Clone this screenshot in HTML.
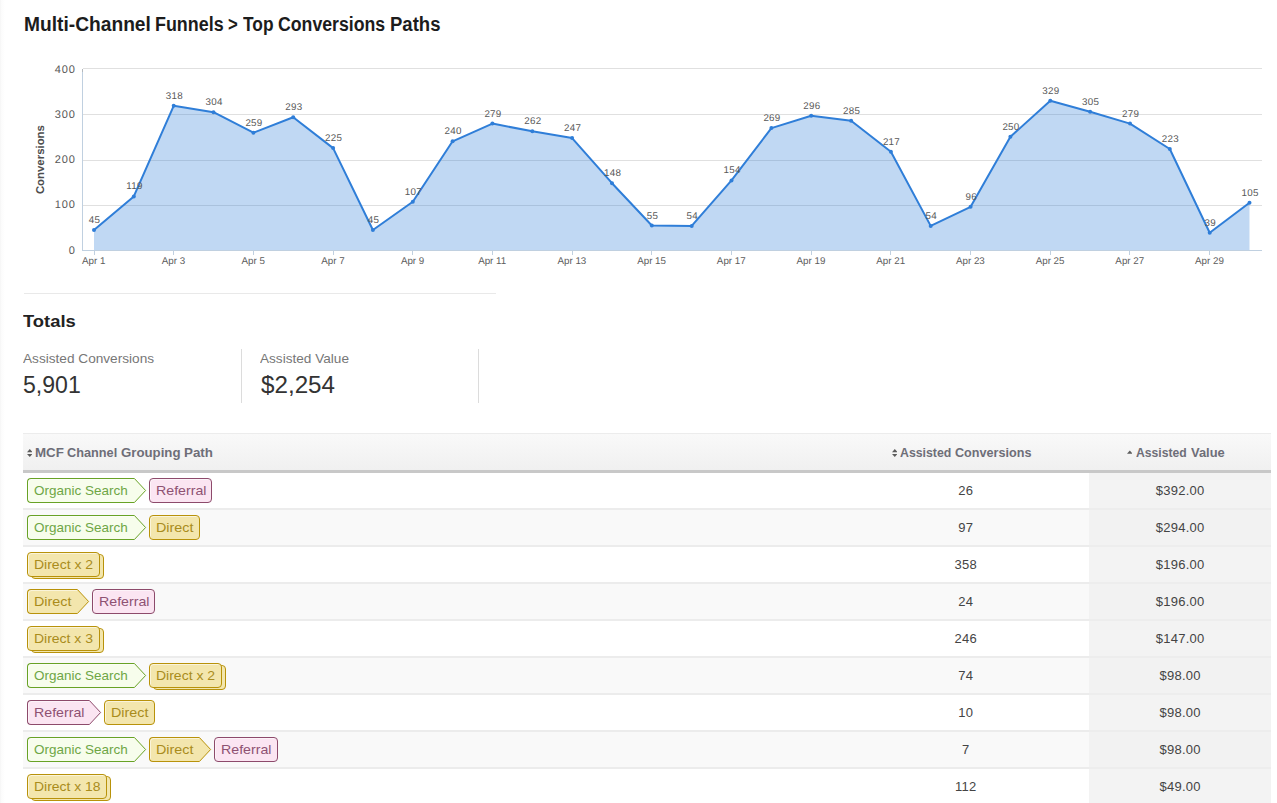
<!DOCTYPE html>
<html><head><meta charset="utf-8"><title>Top Conversions Paths</title>
<style>
html,body{margin:0;padding:0;background:#fff;}
body{width:1277px;height:803px;overflow:hidden;position:relative;font-family:"Liberation Sans",sans-serif;color:#333;}
.abs{position:absolute;white-space:nowrap;}
.t{position:absolute;white-space:nowrap;line-height:1;transform-origin:0 0;}
#edge{left:0;top:0;width:1px;height:803px;background:#f7f7f7;}
#edge2{left:1px;top:0;width:4px;height:803px;background:linear-gradient(to right,#fbfbfb,#fff);}
#hr{left:24px;top:293px;width:472px;height:1px;background:#e9e9e9;}
.vd{width:1px;height:54px;top:349px;background:#dcdcdc;}
#thead{left:23px;top:433px;width:1248px;height:37px;background:linear-gradient(to bottom,#f9f9f9 0%,#f5f5f5 45%,#f0f0f0 100%);border-top:1px solid #ececec;box-sizing:border-box;}
#thb{left:23px;top:470px;width:1248px;height:3px;background:#c8c8c8;}
.row{position:absolute;left:23px;width:1248px;height:35px;border-bottom:2px solid #ececec;}
.row.even{background:#f9f9f9;}
.c2{position:absolute;left:817.8px;width:250px;top:0;line-height:35px;text-align:center;font-size:13px;letter-spacing:0.25px;color:#444;}
.c3{position:absolute;left:1066px;width:182px;top:0;height:35px;line-height:35px;text-align:center;text-indent:0.4px;font-size:13px;letter-spacing:0.25px;color:#444;background:#f3f3f3;box-shadow:0 2px 0 #ededed;}
.row.even .c3{background:#f2f2f2;}
.tg{position:absolute;box-sizing:border-box;height:25px;border:1px solid;border-radius:4px;box-shadow:inset 1px 1px 0 rgba(255,255,255,.55);}
.tg.ar{border-right:none;border-top-right-radius:0;border-bottom-right-radius:0;}
</style></head><body>
<div class="abs" id="edge"></div><div class="abs" id="edge2"></div>
<span class="t" style="left:23.77px;top:15.00px;font-size:19.5px;font-weight:bold;color:#1c1c1c;transform:scaleX(0.9841);">Multi-Channel</span><span class="t" style="left:154.85px;top:15.00px;font-size:19.5px;font-weight:bold;color:#1c1c1c;transform:scaleX(0.9182);">Funnels</span><span class="t" style="left:227.90px;top:15.00px;font-size:19.5px;font-weight:bold;color:#1c1c1c;transform:scaleX(0.8561);">&gt;</span><span class="t" style="left:242.73px;top:15.00px;font-size:19.5px;font-weight:bold;color:#1c1c1c;transform:scaleX(0.8886);">Top</span><span class="t" style="left:277.72px;top:15.00px;font-size:19.5px;font-weight:bold;color:#1c1c1c;transform:scaleX(0.9077);">Conversions</span><span class="t" style="left:390.21px;top:15.00px;font-size:19.5px;font-weight:bold;color:#1c1c1c;transform:scaleX(0.9498);">Paths</span>
<svg id="chart" width="1277" height="240" viewBox="0 50 1277 240" style="position:absolute;left:0;top:50px;font-family:'Liberation Sans',sans-serif;text-rendering:geometricPrecision">
<path d="M83 205.5 H1262" stroke="#e0e0e0" stroke-width="1" fill="none"/>
<path d="M83 160.5 H1262" stroke="#e0e0e0" stroke-width="1" fill="none"/>
<path d="M83 114.5 H1262" stroke="#e0e0e0" stroke-width="1" fill="none"/>
<path d="M83 68.5 H1262" stroke="#e0e0e0" stroke-width="1" fill="none"/>
<path d="M94.0,250.5 L94.0,230.0 L133.8,196.4 L173.7,105.8 L213.5,112.2 L253.4,132.7 L293.2,117.2 L333.1,148.1 L372.9,230.0 L412.8,201.8 L452.6,141.3 L492.4,123.6 L532.3,131.3 L572.1,138.1 L612.0,183.2 L651.8,225.5 L691.7,225.9 L731.5,180.4 L771.4,128.1 L811.2,115.8 L851.1,120.8 L890.9,151.8 L930.7,225.9 L970.6,206.8 L1010.4,136.8 L1050.3,100.8 L1090.1,111.7 L1130.0,123.6 L1169.8,149.0 L1209.7,232.8 L1249.5,202.7 L1249.5,250.5 Z" fill="#2f7ed8" fill-opacity="0.3"/>
<path d="M82.5 69 V251" stroke="#c0d0e0" stroke-width="1" fill="none"/>
<path d="M82.5 69 V72" stroke="#b4b8bc" stroke-width="1" fill="none"/>
<path d="M82 250.5 H1262" stroke="#c0d0e0" stroke-width="1" fill="none"/>
<path d="M94.5 251 V255" stroke="#c0d0e0" stroke-width="1" fill="none"/>
<path d="M173.5 251 V255" stroke="#c0d0e0" stroke-width="1" fill="none"/>
<path d="M253.5 251 V255" stroke="#c0d0e0" stroke-width="1" fill="none"/>
<path d="M333.5 251 V255" stroke="#c0d0e0" stroke-width="1" fill="none"/>
<path d="M412.5 251 V255" stroke="#c0d0e0" stroke-width="1" fill="none"/>
<path d="M492.5 251 V255" stroke="#c0d0e0" stroke-width="1" fill="none"/>
<path d="M572.5 251 V255" stroke="#c0d0e0" stroke-width="1" fill="none"/>
<path d="M651.5 251 V255" stroke="#c0d0e0" stroke-width="1" fill="none"/>
<path d="M731.5 251 V255" stroke="#c0d0e0" stroke-width="1" fill="none"/>
<path d="M811.5 251 V255" stroke="#c0d0e0" stroke-width="1" fill="none"/>
<path d="M890.5 251 V255" stroke="#c0d0e0" stroke-width="1" fill="none"/>
<path d="M970.5 251 V255" stroke="#c0d0e0" stroke-width="1" fill="none"/>
<path d="M1050.5 251 V255" stroke="#c0d0e0" stroke-width="1" fill="none"/>
<path d="M1129.5 251 V255" stroke="#c0d0e0" stroke-width="1" fill="none"/>
<path d="M1209.5 251 V255" stroke="#c0d0e0" stroke-width="1" fill="none"/>
<polyline points="94.0,230.0 133.8,196.4 173.7,105.8 213.5,112.2 253.4,132.7 293.2,117.2 333.1,148.1 372.9,230.0 412.8,201.8 452.6,141.3 492.4,123.6 532.3,131.3 572.1,138.1 612.0,183.2 651.8,225.5 691.7,225.9 731.5,180.4 771.4,128.1 811.2,115.8 851.1,120.8 890.9,151.8 930.7,225.9 970.6,206.8 1010.4,136.8 1050.3,100.8 1090.1,111.7 1130.0,123.6 1169.8,149.0 1209.7,232.8 1249.5,202.7" fill="none" stroke="#2f7ed8" stroke-width="2" stroke-linejoin="round" stroke-linecap="round"/>
<circle cx="94.0" cy="230.0" r="2" fill="#2f7ed8"/>
<circle cx="133.8" cy="196.4" r="2" fill="#2f7ed8"/>
<circle cx="173.7" cy="105.8" r="2" fill="#2f7ed8"/>
<circle cx="213.5" cy="112.2" r="2" fill="#2f7ed8"/>
<circle cx="253.4" cy="132.7" r="2" fill="#2f7ed8"/>
<circle cx="293.2" cy="117.2" r="2" fill="#2f7ed8"/>
<circle cx="333.1" cy="148.1" r="2" fill="#2f7ed8"/>
<circle cx="372.9" cy="230.0" r="2" fill="#2f7ed8"/>
<circle cx="412.8" cy="201.8" r="2" fill="#2f7ed8"/>
<circle cx="452.6" cy="141.3" r="2" fill="#2f7ed8"/>
<circle cx="492.4" cy="123.6" r="2" fill="#2f7ed8"/>
<circle cx="532.3" cy="131.3" r="2" fill="#2f7ed8"/>
<circle cx="572.1" cy="138.1" r="2" fill="#2f7ed8"/>
<circle cx="612.0" cy="183.2" r="2" fill="#2f7ed8"/>
<circle cx="651.8" cy="225.5" r="2" fill="#2f7ed8"/>
<circle cx="691.7" cy="225.9" r="2" fill="#2f7ed8"/>
<circle cx="731.5" cy="180.4" r="2" fill="#2f7ed8"/>
<circle cx="771.4" cy="128.1" r="2" fill="#2f7ed8"/>
<circle cx="811.2" cy="115.8" r="2" fill="#2f7ed8"/>
<circle cx="851.1" cy="120.8" r="2" fill="#2f7ed8"/>
<circle cx="890.9" cy="151.8" r="2" fill="#2f7ed8"/>
<circle cx="930.7" cy="225.9" r="2" fill="#2f7ed8"/>
<circle cx="970.6" cy="206.8" r="2" fill="#2f7ed8"/>
<circle cx="1010.4" cy="136.8" r="2" fill="#2f7ed8"/>
<circle cx="1050.3" cy="100.8" r="2" fill="#2f7ed8"/>
<circle cx="1090.1" cy="111.7" r="2" fill="#2f7ed8"/>
<circle cx="1130.0" cy="123.6" r="2" fill="#2f7ed8"/>
<circle cx="1169.8" cy="149.0" r="2" fill="#2f7ed8"/>
<circle cx="1209.7" cy="232.8" r="2" fill="#2f7ed8"/>
<circle cx="1249.5" cy="202.7" r="2" fill="#2f7ed8"/>
<text x="94.6" y="223.0" text-anchor="middle" font-size="9.8" letter-spacing="0.3" fill="#585858">45</text>
<text x="134.4" y="189.4" text-anchor="middle" font-size="9.8" letter-spacing="0.3" fill="#585858">119</text>
<text x="174.3" y="98.8" text-anchor="middle" font-size="9.8" letter-spacing="0.3" fill="#585858">318</text>
<text x="214.1" y="105.2" text-anchor="middle" font-size="9.8" letter-spacing="0.3" fill="#585858">304</text>
<text x="254.0" y="125.7" text-anchor="middle" font-size="9.8" letter-spacing="0.3" fill="#585858">259</text>
<text x="293.8" y="110.2" text-anchor="middle" font-size="9.8" letter-spacing="0.3" fill="#585858">293</text>
<text x="333.7" y="141.1" text-anchor="middle" font-size="9.8" letter-spacing="0.3" fill="#585858">225</text>
<text x="373.5" y="223.0" text-anchor="middle" font-size="9.8" letter-spacing="0.3" fill="#585858">45</text>
<text x="413.4" y="194.8" text-anchor="middle" font-size="9.8" letter-spacing="0.3" fill="#585858">107</text>
<text x="453.2" y="134.3" text-anchor="middle" font-size="9.8" letter-spacing="0.3" fill="#585858">240</text>
<text x="493.0" y="116.6" text-anchor="middle" font-size="9.8" letter-spacing="0.3" fill="#585858">279</text>
<text x="532.9" y="124.3" text-anchor="middle" font-size="9.8" letter-spacing="0.3" fill="#585858">262</text>
<text x="572.7" y="131.1" text-anchor="middle" font-size="9.8" letter-spacing="0.3" fill="#585858">247</text>
<text x="612.6" y="176.2" text-anchor="middle" font-size="9.8" letter-spacing="0.3" fill="#585858">148</text>
<text x="652.4" y="218.5" text-anchor="middle" font-size="9.8" letter-spacing="0.3" fill="#585858">55</text>
<text x="692.3" y="218.9" text-anchor="middle" font-size="9.8" letter-spacing="0.3" fill="#585858">54</text>
<text x="732.1" y="173.4" text-anchor="middle" font-size="9.8" letter-spacing="0.3" fill="#585858">154</text>
<text x="772.0" y="121.1" text-anchor="middle" font-size="9.8" letter-spacing="0.3" fill="#585858">269</text>
<text x="811.8" y="108.8" text-anchor="middle" font-size="9.8" letter-spacing="0.3" fill="#585858">296</text>
<text x="851.7" y="113.8" text-anchor="middle" font-size="9.8" letter-spacing="0.3" fill="#585858">285</text>
<text x="891.5" y="144.8" text-anchor="middle" font-size="9.8" letter-spacing="0.3" fill="#585858">217</text>
<text x="931.3" y="218.9" text-anchor="middle" font-size="9.8" letter-spacing="0.3" fill="#585858">54</text>
<text x="971.2" y="199.8" text-anchor="middle" font-size="9.8" letter-spacing="0.3" fill="#585858">96</text>
<text x="1011.0" y="129.8" text-anchor="middle" font-size="9.8" letter-spacing="0.3" fill="#585858">250</text>
<text x="1050.9" y="93.8" text-anchor="middle" font-size="9.8" letter-spacing="0.3" fill="#585858">329</text>
<text x="1090.7" y="104.7" text-anchor="middle" font-size="9.8" letter-spacing="0.3" fill="#585858">305</text>
<text x="1130.6" y="116.6" text-anchor="middle" font-size="9.8" letter-spacing="0.3" fill="#585858">279</text>
<text x="1170.4" y="142.0" text-anchor="middle" font-size="9.8" letter-spacing="0.3" fill="#585858">223</text>
<text x="1210.3" y="225.8" text-anchor="middle" font-size="9.8" letter-spacing="0.3" fill="#585858">39</text>
<text x="1250.1" y="195.7" text-anchor="middle" font-size="9.8" letter-spacing="0.3" fill="#585858">105</text>
<text x="75.6" y="254" text-anchor="end" font-size="11" letter-spacing="0.8" fill="#585858">0</text>
<text x="75.6" y="208" text-anchor="end" font-size="11" letter-spacing="0.8" fill="#585858">100</text>
<text x="75.6" y="163" text-anchor="end" font-size="11" letter-spacing="0.8" fill="#585858">200</text>
<text x="75.6" y="118" text-anchor="end" font-size="11" letter-spacing="0.8" fill="#585858">300</text>
<text x="75.6" y="73" text-anchor="end" font-size="11" letter-spacing="0.8" fill="#585858">400</text>
<text x="93.8" y="264" text-anchor="middle" font-size="9.8" letter-spacing="0" fill="#5c5c5c">Apr 1</text>
<text x="173.5" y="264" text-anchor="middle" font-size="9.8" letter-spacing="0" fill="#5c5c5c">Apr 3</text>
<text x="253.2" y="264" text-anchor="middle" font-size="9.8" letter-spacing="0" fill="#5c5c5c">Apr 5</text>
<text x="332.9" y="264" text-anchor="middle" font-size="9.8" letter-spacing="0" fill="#5c5c5c">Apr 7</text>
<text x="412.6" y="264" text-anchor="middle" font-size="9.8" letter-spacing="0" fill="#5c5c5c">Apr 9</text>
<text x="492.2" y="264" text-anchor="middle" font-size="9.8" letter-spacing="0" fill="#5c5c5c">Apr 11</text>
<text x="571.9" y="264" text-anchor="middle" font-size="9.8" letter-spacing="0" fill="#5c5c5c">Apr 13</text>
<text x="651.6" y="264" text-anchor="middle" font-size="9.8" letter-spacing="0" fill="#5c5c5c">Apr 15</text>
<text x="731.3" y="264" text-anchor="middle" font-size="9.8" letter-spacing="0" fill="#5c5c5c">Apr 17</text>
<text x="811.0" y="264" text-anchor="middle" font-size="9.8" letter-spacing="0" fill="#5c5c5c">Apr 19</text>
<text x="890.7" y="264" text-anchor="middle" font-size="9.8" letter-spacing="0" fill="#5c5c5c">Apr 21</text>
<text x="970.4" y="264" text-anchor="middle" font-size="9.8" letter-spacing="0" fill="#5c5c5c">Apr 23</text>
<text x="1050.1" y="264" text-anchor="middle" font-size="9.8" letter-spacing="0" fill="#5c5c5c">Apr 25</text>
<text x="1129.8" y="264" text-anchor="middle" font-size="9.8" letter-spacing="0" fill="#5c5c5c">Apr 27</text>
<text x="1209.5" y="264" text-anchor="middle" font-size="9.8" letter-spacing="0" fill="#5c5c5c">Apr 29</text>
<text x="44.2" y="159.6" text-anchor="middle" font-size="11.4" font-weight="bold" fill="#4d4d4d" transform="rotate(-90 44.2 159.6)">Conversions</text>
</svg>
<div class="abs" id="hr"></div>
<span class="t" style="left:23.26px;top:313.00px;font-size:16.5px;font-weight:bold;color:#222;transform:scaleX(1.1125);">Totals</span><span class="t" style="left:23.30px;top:352.00px;font-size:13px;font-weight:normal;color:#777;transform:scaleX(1.0485);">Assisted Conversions</span><span class="t" style="left:23.22px;top:374.00px;font-size:23px;font-weight:normal;color:#333;transform:scaleX(1.0025);">5,901</span><span class="t" style="left:260.10px;top:352.00px;font-size:13px;font-weight:normal;color:#777;transform:scaleX(1.0462);">Assisted Value</span><span class="t" style="left:260.90px;top:374.00px;font-size:23px;font-weight:normal;color:#333;transform:scaleX(1.0518);">$2,254</span>
<div class="abs vd" style="left:241px"></div>
<div class="abs vd" style="left:478px"></div>
<div class="abs" id="thead"></div>
<div class="abs" id="thb"></div>
<svg class="abs" style="left:26.6px;top:448px" width="5.6" height="10" viewBox="0 0 5.6 10"><path d="M0 4.2 L2.8 1 L5.6 4.2 Z M0 5.9 L2.8 9.1 L5.6 5.9 Z" fill="#5c5c5c"/></svg><span class="t" style="left:34.73px;top:446.00px;font-size:13.4px;font-weight:bold;color:#6e6e78;transform:scaleX(0.9955);">MCF</span><span class="t" style="left:66.93px;top:446.00px;font-size:13.4px;font-weight:bold;color:#6e6e78;transform:scaleX(0.9499);">Channel</span><span class="t" style="left:120.61px;top:446.00px;font-size:13.4px;font-weight:bold;color:#6e6e78;transform:scaleX(0.9879);">Grouping</span><span class="t" style="left:184.03px;top:446.00px;font-size:13.4px;font-weight:bold;color:#6e6e78;transform:scaleX(0.9959);">Path</span><svg class="abs" style="left:891.5px;top:448px" width="5.6" height="10" viewBox="0 0 5.6 10"><path d="M0 4.2 L2.8 1 L5.6 4.2 Z M0 5.9 L2.8 9.1 L5.6 5.9 Z" fill="#5c5c5c"/></svg><span class="t" style="left:899.91px;top:446.00px;font-size:13.4px;font-weight:bold;color:#6e6e78;transform:scaleX(0.9200);">Assisted</span><span class="t" style="left:955.13px;top:446.00px;font-size:13.4px;font-weight:bold;color:#6e6e78;transform:scaleX(0.9425);">Conversions</span><svg class="abs" style="left:1126.6px;top:450px" width="5.6" height="4" viewBox="0 0 5.6 4"><path d="M0 3.8 L2.8 0.6 L5.6 3.8 Z" fill="#5c5c5c"/></svg><span class="t" style="left:1136.02px;top:446.00px;font-size:13.4px;font-weight:bold;color:#6e6e78;transform:scaleX(0.9090);">Assisted</span><span class="t" style="left:1190.74px;top:446.00px;font-size:13.4px;font-weight:bold;color:#6e6e78;transform:scaleX(0.9641);">Value</span>
<div class="row odd" style="top:473px"><div class="tg ar" style="left:4px;top:5px;width:107px;background:#f7fdec;border-color:#68a225"></div><svg class="abs" style="left:111px;top:5px" width="13" height="25" viewBox="0 0 13 25"><path d="M0 0.5 L0.4 0.5 L11.6 12.5 L0.4 24.5 L0 24.5" fill="#f7fdec" stroke="#68a225" stroke-width="1"/></svg><span class="t" style="left:11.22px;top:11.00px;font-size:13px;font-weight:normal;color:#6ea645;transform:scaleX(1.0371);">Organic Search</span><div class="tg" style="left:126px;top:5px;width:63px;background:#fbe5f2;border-color:#8d4a6b"></div><span class="t" style="left:133.04px;top:11.00px;font-size:13px;font-weight:normal;color:#8e5272;transform:scaleX(1.0907);">Referral</span><div class="c2">26</div><div class="c3">$392.00</div></div>
<div class="row even" style="top:510px"><div class="tg ar" style="left:4px;top:5px;width:107px;background:#f7fdec;border-color:#68a225"></div><svg class="abs" style="left:111px;top:5px" width="13" height="25" viewBox="0 0 13 25"><path d="M0 0.5 L0.4 0.5 L11.6 12.5 L0.4 24.5 L0 24.5" fill="#f7fdec" stroke="#68a225" stroke-width="1"/></svg><span class="t" style="left:11.22px;top:11.00px;font-size:13px;font-weight:normal;color:#6ea645;transform:scaleX(1.0371);">Organic Search</span><div class="tg" style="left:126px;top:5px;width:51px;background:#f3e6ad;border-color:#b8920a"></div><span class="t" style="left:133.03px;top:11.00px;font-size:13px;font-weight:normal;color:#a98c1c;transform:scaleX(1.1032);">Direct</span><div class="c2">97</div><div class="c3">$294.00</div></div>
<div class="row odd" style="top:547px"><div class="tg" style="left:8px;top:7px;width:73px;background:#f3e6ad;border-color:#b8920a"></div><div class="tg" style="left:4px;top:5px;width:73px;background:#f3e6ad;border-color:#b8920a"></div><span class="t" style="left:11.06px;top:11.00px;font-size:13px;font-weight:normal;color:#a98c1c;transform:scaleX(1.0761);">Direct x 2</span><div class="c2">358</div><div class="c3">$196.00</div></div>
<div class="row even" style="top:584px"><div class="tg ar" style="left:4px;top:5px;width:50px;background:#f3e6ad;border-color:#b8920a"></div><svg class="abs" style="left:54px;top:5px" width="13" height="25" viewBox="0 0 13 25"><path d="M0 0.5 L0.4 0.5 L11.6 12.5 L0.4 24.5 L0 24.5" fill="#f3e6ad" stroke="#b8920a" stroke-width="1"/></svg><span class="t" style="left:11.03px;top:11.00px;font-size:13px;font-weight:normal;color:#a98c1c;transform:scaleX(1.1032);">Direct</span><div class="tg" style="left:69px;top:5px;width:63px;background:#fbe5f2;border-color:#8d4a6b"></div><span class="t" style="left:76.04px;top:11.00px;font-size:13px;font-weight:normal;color:#8e5272;transform:scaleX(1.0907);">Referral</span><div class="c2">24</div><div class="c3">$196.00</div></div>
<div class="row odd" style="top:621px"><div class="tg" style="left:8px;top:7px;width:73px;background:#f3e6ad;border-color:#b8920a"></div><div class="tg" style="left:4px;top:5px;width:73px;background:#f3e6ad;border-color:#b8920a"></div><span class="t" style="left:11.06px;top:11.00px;font-size:13px;font-weight:normal;color:#a98c1c;transform:scaleX(1.0748);">Direct x 3</span><div class="c2">246</div><div class="c3">$147.00</div></div>
<div class="row even" style="top:658px"><div class="tg ar" style="left:4px;top:5px;width:107px;background:#f7fdec;border-color:#68a225"></div><svg class="abs" style="left:111px;top:5px" width="13" height="25" viewBox="0 0 13 25"><path d="M0 0.5 L0.4 0.5 L11.6 12.5 L0.4 24.5 L0 24.5" fill="#f7fdec" stroke="#68a225" stroke-width="1"/></svg><span class="t" style="left:11.22px;top:11.00px;font-size:13px;font-weight:normal;color:#6ea645;transform:scaleX(1.0371);">Organic Search</span><div class="tg" style="left:130px;top:7px;width:73px;background:#f3e6ad;border-color:#b8920a"></div><div class="tg" style="left:126px;top:5px;width:73px;background:#f3e6ad;border-color:#b8920a"></div><span class="t" style="left:133.06px;top:11.00px;font-size:13px;font-weight:normal;color:#a98c1c;transform:scaleX(1.0761);">Direct x 2</span><div class="c2">74</div><div class="c3">$98.00</div></div>
<div class="row odd" style="top:695px"><div class="tg ar" style="left:4px;top:5px;width:62px;background:#fbe5f2;border-color:#8d4a6b"></div><svg class="abs" style="left:66px;top:5px" width="13" height="25" viewBox="0 0 13 25"><path d="M0 0.5 L0.4 0.5 L11.6 12.5 L0.4 24.5 L0 24.5" fill="#fbe5f2" stroke="#8d4a6b" stroke-width="1"/></svg><span class="t" style="left:11.04px;top:11.00px;font-size:13px;font-weight:normal;color:#8e5272;transform:scaleX(1.0907);">Referral</span><div class="tg" style="left:81px;top:5px;width:51px;background:#f3e6ad;border-color:#b8920a"></div><span class="t" style="left:88.03px;top:11.00px;font-size:13px;font-weight:normal;color:#a98c1c;transform:scaleX(1.1032);">Direct</span><div class="c2">10</div><div class="c3">$98.00</div></div>
<div class="row even" style="top:732px"><div class="tg ar" style="left:4px;top:5px;width:107px;background:#f7fdec;border-color:#68a225"></div><svg class="abs" style="left:111px;top:5px" width="13" height="25" viewBox="0 0 13 25"><path d="M0 0.5 L0.4 0.5 L11.6 12.5 L0.4 24.5 L0 24.5" fill="#f7fdec" stroke="#68a225" stroke-width="1"/></svg><span class="t" style="left:11.22px;top:11.00px;font-size:13px;font-weight:normal;color:#6ea645;transform:scaleX(1.0371);">Organic Search</span><div class="tg ar" style="left:126px;top:5px;width:50px;background:#f3e6ad;border-color:#b8920a"></div><svg class="abs" style="left:176px;top:5px" width="13" height="25" viewBox="0 0 13 25"><path d="M0 0.5 L0.4 0.5 L11.6 12.5 L0.4 24.5 L0 24.5" fill="#f3e6ad" stroke="#b8920a" stroke-width="1"/></svg><span class="t" style="left:133.03px;top:11.00px;font-size:13px;font-weight:normal;color:#a98c1c;transform:scaleX(1.1032);">Direct</span><div class="tg" style="left:191px;top:5px;width:64px;background:#fbe5f2;border-color:#8d4a6b"></div><span class="t" style="left:198.04px;top:11.00px;font-size:13px;font-weight:normal;color:#8e5272;transform:scaleX(1.0907);">Referral</span><div class="c2">7</div><div class="c3">$98.00</div></div>
<div class="row odd" style="top:769px"><div class="tg" style="left:8px;top:7px;width:80px;background:#f3e6ad;border-color:#b8920a"></div><div class="tg" style="left:4px;top:5px;width:80px;background:#f3e6ad;border-color:#b8920a"></div><span class="t" style="left:11.06px;top:11.00px;font-size:13px;font-weight:normal;color:#a98c1c;transform:scaleX(1.0711);">Direct x 18</span><div class="c2">112</div><div class="c3">$49.00</div></div>
</body></html>
